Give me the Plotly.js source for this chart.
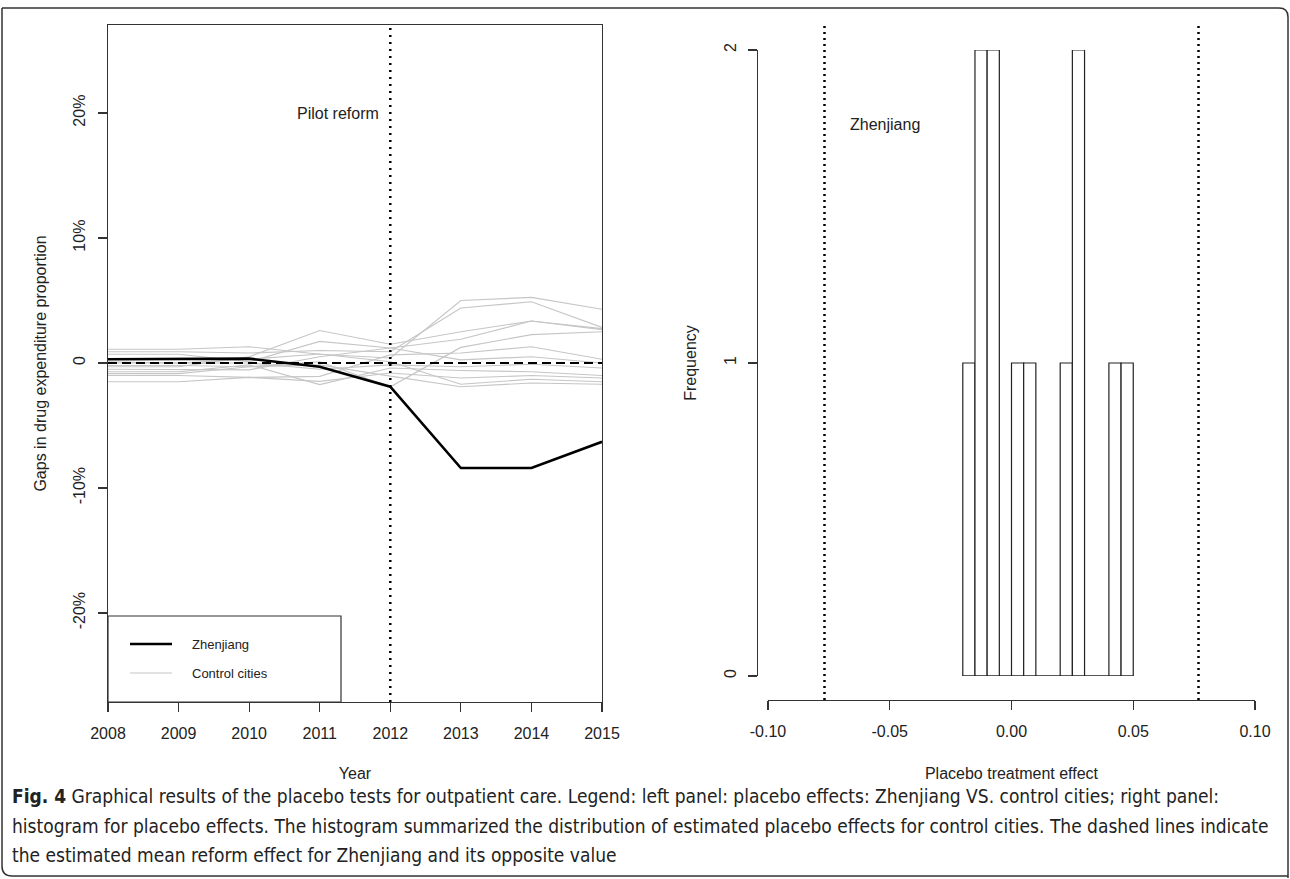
<!DOCTYPE html>
<html>
<head>
<meta charset="utf-8">
<script src="https://cdn.plot.ly/plotly-3.0.1.min.js"></script>
<style>html,body{margin:0;padding:0;background:#fff;}#chart{width:1290px;height:879px;}</style>
</head>
<body>
<div id="chart"></div>
<script>
// ---------- Data: left panel (gaps, in percent) ----------
const years = [2008, 2009, 2010, 2011, 2012, 2013, 2014, 2015];
const zhenjiang = [0.3, 0.3, 0.35, -0.3, -1.9, -8.4, -8.4, -6.3];
const control01 = [1.1, 1.1, 1.3, 0.7, 0.4, 5.0, 5.25, 4.3];
const control02 = [0.9, 0.9, 0.8, 1.0, 0.9, 4.4, 4.9, 2.85];
const control03 = [-0.3, -0.3, 0.5, 2.6, 1.5, 2.5, 3.36, 2.67];
const control04 = [-0.85, -0.85, -0.3, 0.1, -1.9, 1.25, 2.27, 2.5];
const control05 = [0.7, 0.7, 0.1, 1.73, 1.2, 1.9, 3.36, 2.75];
const control06 = [-1.0, -1.0, -1.15, -1.07, 0.65, 0.8, 1.3, 0.3];
const control07 = [-0.5, -0.5, -0.55, 0.5, 1.2, 0.25, 0.5, 0.0];
const control08 = [0.0, 0.0, 0.0, -0.5, -0.15, -0.3, -0.1, -0.4];
const control09 = [-0.7, -0.7, -0.15, -1.73, -0.4, -0.6, -0.7, -1.0];
const control10 = [-1.5, -1.5, -1.15, -1.47, -0.8, -1.2, -1.0, -1.2];
const control11 = [0.1, 0.0, 0.3, 0.72, 0.1, -1.7, -1.3, -1.5];
const control12 = [-0.2, -0.2, -0.3, -0.15, -1.05, -1.9, -1.6, -1.7];
const controls = [control01, control02, control03, control04, control05, control06,
                  control07, control08, control09, control10, control11, control12];
const reformYear = 2012;
const gapTickVals = [-20, -10, 0, 10, 20];
const gapTickText = ['-20%', '-10%', '0', '10%', '20%'];

// ---------- Data: right panel (histogram of placebo effects) ----------
const binEdges = [-0.020, -0.015, -0.010, -0.005, 0.000, 0.005, 0.010, 0.015,
                  0.020, 0.025, 0.030, 0.035, 0.040, 0.045, 0.050];
const binCounts = [1, 2, 2, 0, 1, 1, 0, 0, 1, 2, 0, 0, 1, 1];
const zhenjiangEffect = 0.0768;
const effectTickVals = [-0.10, -0.05, 0.00, 0.05, 0.10];
const effectTickText = ['-0.10', '-0.05', '0.00', '0.05', '0.10'];
const freqTickVals = [0, 1, 2];

// ---------- Helpers (pixel -> paper, margins are zero) ----------
const W = 1290, H = 879;
const X = px => px / W;
const Y = py => 1 - py / H;
const FONT = 'Liberation Sans, Arial, sans-serif';
const CAPFONT = 'Liberation Sans Narrow, DejaVu Sans Condensed, Roboto Condensed, Liberation Sans, sans-serif';

const traces = [];
controls.forEach(c => traces.push({
  x: years, y: c, type: 'scatter', mode: 'lines', xaxis: 'x', yaxis: 'y',
  line: {color: '#c6c6c6', width: 1.2}, showlegend: false, hoverinfo: 'skip'
}));
traces.push({
  x: years, y: zhenjiang, type: 'scatter', mode: 'lines', xaxis: 'x', yaxis: 'y',
  line: {color: '#000', width: 2.6}, showlegend: false
});

const binCenters = binCounts.map((c, i) => (binEdges[i] + binEdges[i + 1]) / 2);
const binWidths = binCounts.map((c, i) => binEdges[i + 1] - binEdges[i]);
traces.push({
  x: binCenters, y: binCounts, width: binWidths, type: 'bar', xaxis: 'x2', yaxis: 'y2',
  marker: {color: '#fff', line: {color: '#222', width: 1.2}}, showlegend: false
});
traces.push({
  x: [binEdges[0], binEdges[binEdges.length - 1]], y: [0, 0], type: 'scatter', mode: 'lines',
  xaxis: 'x2', yaxis: 'y2', line: {color: '#222', width: 1.2}, cliponaxis: false,
  showlegend: false, hoverinfo: 'skip'
});

const axisCommon = {
  showgrid: false, zeroline: false, ticks: 'outside', ticklen: 9, tickwidth: 1.2,
  tickcolor: '#333', linecolor: '#333', linewidth: 1.2, showline: true,
  tickfont: {family: FONT, size: 16, color: '#222'}
};

const layout = {
  width: W, height: H,
  margin: {l: 0, r: 0, t: 0, b: 0},
  paper_bgcolor: '#fff', plot_bgcolor: 'rgba(0,0,0,0)',
  font: {family: FONT, color: '#222'},
  showlegend: false,
  bargap: 0,
  xaxis: Object.assign({}, axisCommon, {
    domain: [X(108), X(602)], range: [2008, 2015], anchor: 'y',
    tickvals: years, mirror: true, ticklabelstandoff: 8,
    title: {text: 'Year', font: {family: FONT, size: 16, color: '#222'}, standoff: 26}
  }),
  yaxis: Object.assign({}, axisCommon, {
    domain: [Y(702), Y(25)], range: [-27.12, 27.04], anchor: 'x',
    tickvals: gapTickVals, ticktext: gapTickText, tickangle: -90, mirror: true,
    ticklabelstandoff: 6,
    title: {text: 'Gaps in drug expenditure proportion', font: {family: FONT, size: 16, color: '#222'}, standoff: 20}
  }),
  xaxis2: Object.assign({}, axisCommon, {
    domain: [X(768), X(1255)], range: [-0.10, 0.10], anchor: 'free', position: Y(700),
    tickvals: effectTickVals, ticktext: effectTickText, ticklabelstandoff: 8,
    title: {text: 'Placebo treatment effect', font: {family: FONT, size: 16, color: '#222'}, standoff: 28}
  }),
  yaxis2: Object.assign({}, axisCommon, {
    domain: [Y(676), Y(50)], range: [0, 2], anchor: 'free', position: X(757),
    tickvals: freqTickVals, tickangle: -90, ticklabelstandoff: 6,
    title: {text: 'Frequency', font: {family: FONT, size: 16, color: '#222'}, standoff: 19}
  }),
  shapes: [
    // outer rounded frame
    {type: 'path', xref: 'paper', yref: 'paper',
     path: `M ${X(2)} ${Y(8)} L ${X(1279)} ${Y(8)} Q ${X(1288)} ${Y(8)} ${X(1288)} ${Y(17)} L ${X(1288)} ${Y(878)} M ${X(2)} ${Y(8)} L ${X(2)} ${Y(866)} Q ${X(2)} ${Y(876)} ${X(12)} ${Y(876)} L ${X(1288)} ${Y(876)}`,
     line: {color: '#333', width: 1.5}},
    // zero reference line
    {type: 'line', xref: 'x domain', yref: 'y', x0: 0, x1: 1, y0: 0, y1: 0,
     line: {color: '#000', width: 2, dash: '9px,5px'}},
    // pilot reform line
    {type: 'line', xref: 'x', yref: 'y domain', x0: reformYear, x1: reformYear, y0: 0, y1: 1,
     line: {color: '#000', width: 2.5, dash: '2px,5px'}},
    // Zhenjiang effect and its opposite
    {type: 'line', xref: 'x2', yref: 'paper', x0: -zhenjiangEffect, x1: -zhenjiangEffect, y0: Y(700), y1: Y(23),
     line: {color: '#000', width: 2.5, dash: '2px,4px'}},
    {type: 'line', xref: 'x2', yref: 'paper', x0: zhenjiangEffect, x1: zhenjiangEffect, y0: Y(700), y1: Y(23),
     line: {color: '#000', width: 2.5, dash: '2px,4px'}},
    // legend box
    {type: 'rect', xref: 'paper', yref: 'paper', x0: X(108), x1: X(341), y0: Y(702), y1: Y(616),
     fillcolor: '#fff', line: {color: '#333', width: 1.2}, layer: 'above'},
    {type: 'line', xref: 'paper', yref: 'paper', x0: X(130), x1: X(172), y0: Y(644), y1: Y(644),
     line: {color: '#000', width: 2.6}, layer: 'above'},
    {type: 'line', xref: 'paper', yref: 'paper', x0: X(130), x1: X(172), y0: Y(673), y1: Y(673),
     line: {color: '#c6c6c6', width: 1.2}, layer: 'above'}
  ],
  annotations: [
    {xref: 'paper', yref: 'paper', x: X(295), y: Y(114), xanchor: 'left', yanchor: 'middle',
     text: 'Pilot reform', showarrow: false, font: {family: FONT, size: 16, color: '#222'}},
    {xref: 'paper', yref: 'paper', x: X(848), y: Y(125), xanchor: 'left', yanchor: 'middle',
     text: 'Zhenjiang', showarrow: false, font: {family: FONT, size: 16, color: '#222'}},
    {xref: 'paper', yref: 'paper', x: X(190), y: Y(644), xanchor: 'left', yanchor: 'middle',
     text: 'Zhenjiang', showarrow: false, font: {family: FONT, size: 13, color: '#222'}},
    {xref: 'paper', yref: 'paper', x: X(190), y: Y(673), xanchor: 'left', yanchor: 'middle',
     text: 'Control cities', showarrow: false, font: {family: FONT, size: 13, color: '#222'}},
    {xref: 'paper', yref: 'paper', x: X(10), y: Y(796), xanchor: 'left', yanchor: 'middle',
     text: '<b>Fig. 4</b> Graphical results of the placebo tests for outpatient care. Legend: left panel: placebo effects: Zhenjiang VS. control cities; right panel:',
     showarrow: false, font: {family: CAPFONT, size: 19, color: '#222'}},
    {xref: 'paper', yref: 'paper', x: X(10), y: Y(826), xanchor: 'left', yanchor: 'middle',
     text: 'histogram for placebo effects. The histogram summarized the distribution of estimated placebo effects for control cities. The dashed lines indicate',
     showarrow: false, font: {family: CAPFONT, size: 19, color: '#222'}},
    {xref: 'paper', yref: 'paper', x: X(10), y: Y(855), xanchor: 'left', yanchor: 'middle',
     text: 'the estimated mean reform effect for Zhenjiang and its opposite value',
     showarrow: false, font: {family: CAPFONT, size: 19, color: '#222'}}
  ]
};

Plotly.newPlot('chart', traces, layout, {displayModeBar: false, staticPlot: true});
</script>
</body>
</html>
